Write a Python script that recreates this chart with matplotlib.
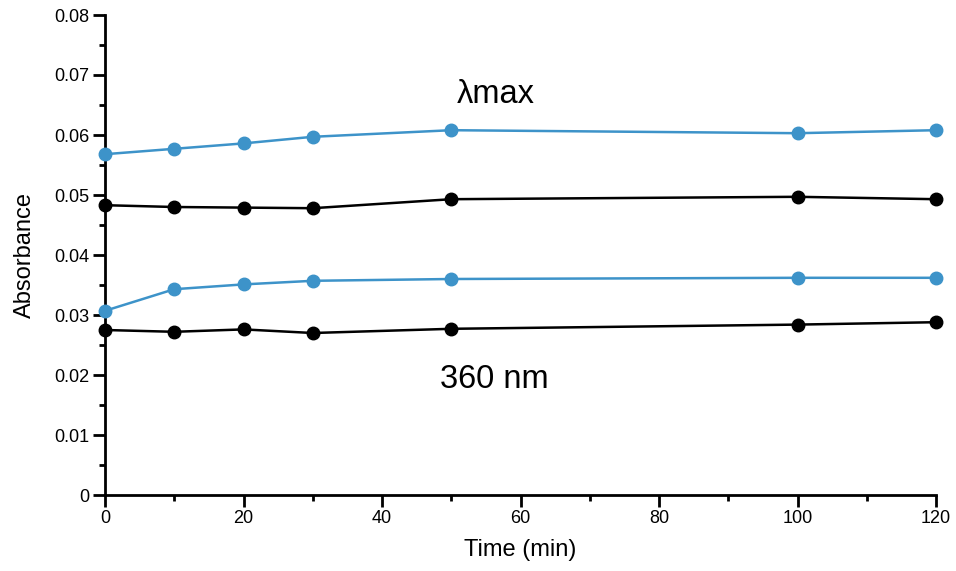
import matplotlib
matplotlib.use("Agg")
import matplotlib.pyplot as plt
from matplotlib.ticker import MultipleLocator, FuncFormatter

plt.rcParams['font.family'] = ['Liberation Sans', 'DejaVu Sans']

time_min = [0, 10, 20, 30, 50, 100, 120]
blue_lambda_max = [0.0568, 0.0577, 0.0586, 0.0597, 0.0608, 0.0603, 0.0608]
black_lambda_max = [0.0483, 0.0480, 0.0479, 0.0478, 0.0493, 0.0497, 0.0493]
blue_360 = [0.0307, 0.0343, 0.0351, 0.0357, 0.0360, 0.0362, 0.0362]
black_360 = [0.0275, 0.0272, 0.0276, 0.0270, 0.0277, 0.0284, 0.0288]

blue = '#3d93c9'
black = '#000000'

fig = plt.figure(figsize=(9.56, 5.71), dpi=100)
ax = fig.add_axes([105/956, 1 - 495/571, (936-105)/956, (495-15)/571])

kw = dict(marker='o', markersize=9, linewidth=1.8, clip_on=False, zorder=3)
ax.plot(time_min, blue_lambda_max, color=blue, **kw)
ax.plot(time_min, black_lambda_max, color=black, **kw)
ax.plot(time_min, blue_360, color=blue, **kw)
ax.plot(time_min, black_360, color=black, **kw)

ax.set_xlim(0, 120)
ax.set_ylim(0, 0.08)
ax.xaxis.set_major_locator(MultipleLocator(20))
ax.xaxis.set_minor_locator(MultipleLocator(10))
ax.yaxis.set_major_locator(MultipleLocator(0.01))
ax.yaxis.set_minor_locator(MultipleLocator(0.005))
ax.yaxis.set_major_formatter(FuncFormatter(lambda v, p: '0' if abs(v) < 1e-12 else f'{v:.2f}'))

for s in ['top', 'right']:
    ax.spines[s].set_visible(False)
for s in ['left', 'bottom']:
    ax.spines[s].set_linewidth(2)

ax.tick_params(which='major', length=8.5, width=2, labelsize=13, direction='out', pad=2.5)
ax.tick_params(which='minor', length=4.5, width=2, direction='out')

ax.set_xlabel('Time (min)', fontsize=17, labelpad=8.5)
ax.set_ylabel('Absorbance', fontsize=17, labelpad=13)

ax.text(50.8, 0.0668, 'λmax', fontsize=23.5, ha='left', va='center')
ax.text(48.4, 0.0192, '360 nm', fontsize=23.5, ha='left', va='center')

fig.savefig('out.png', dpi=100)
